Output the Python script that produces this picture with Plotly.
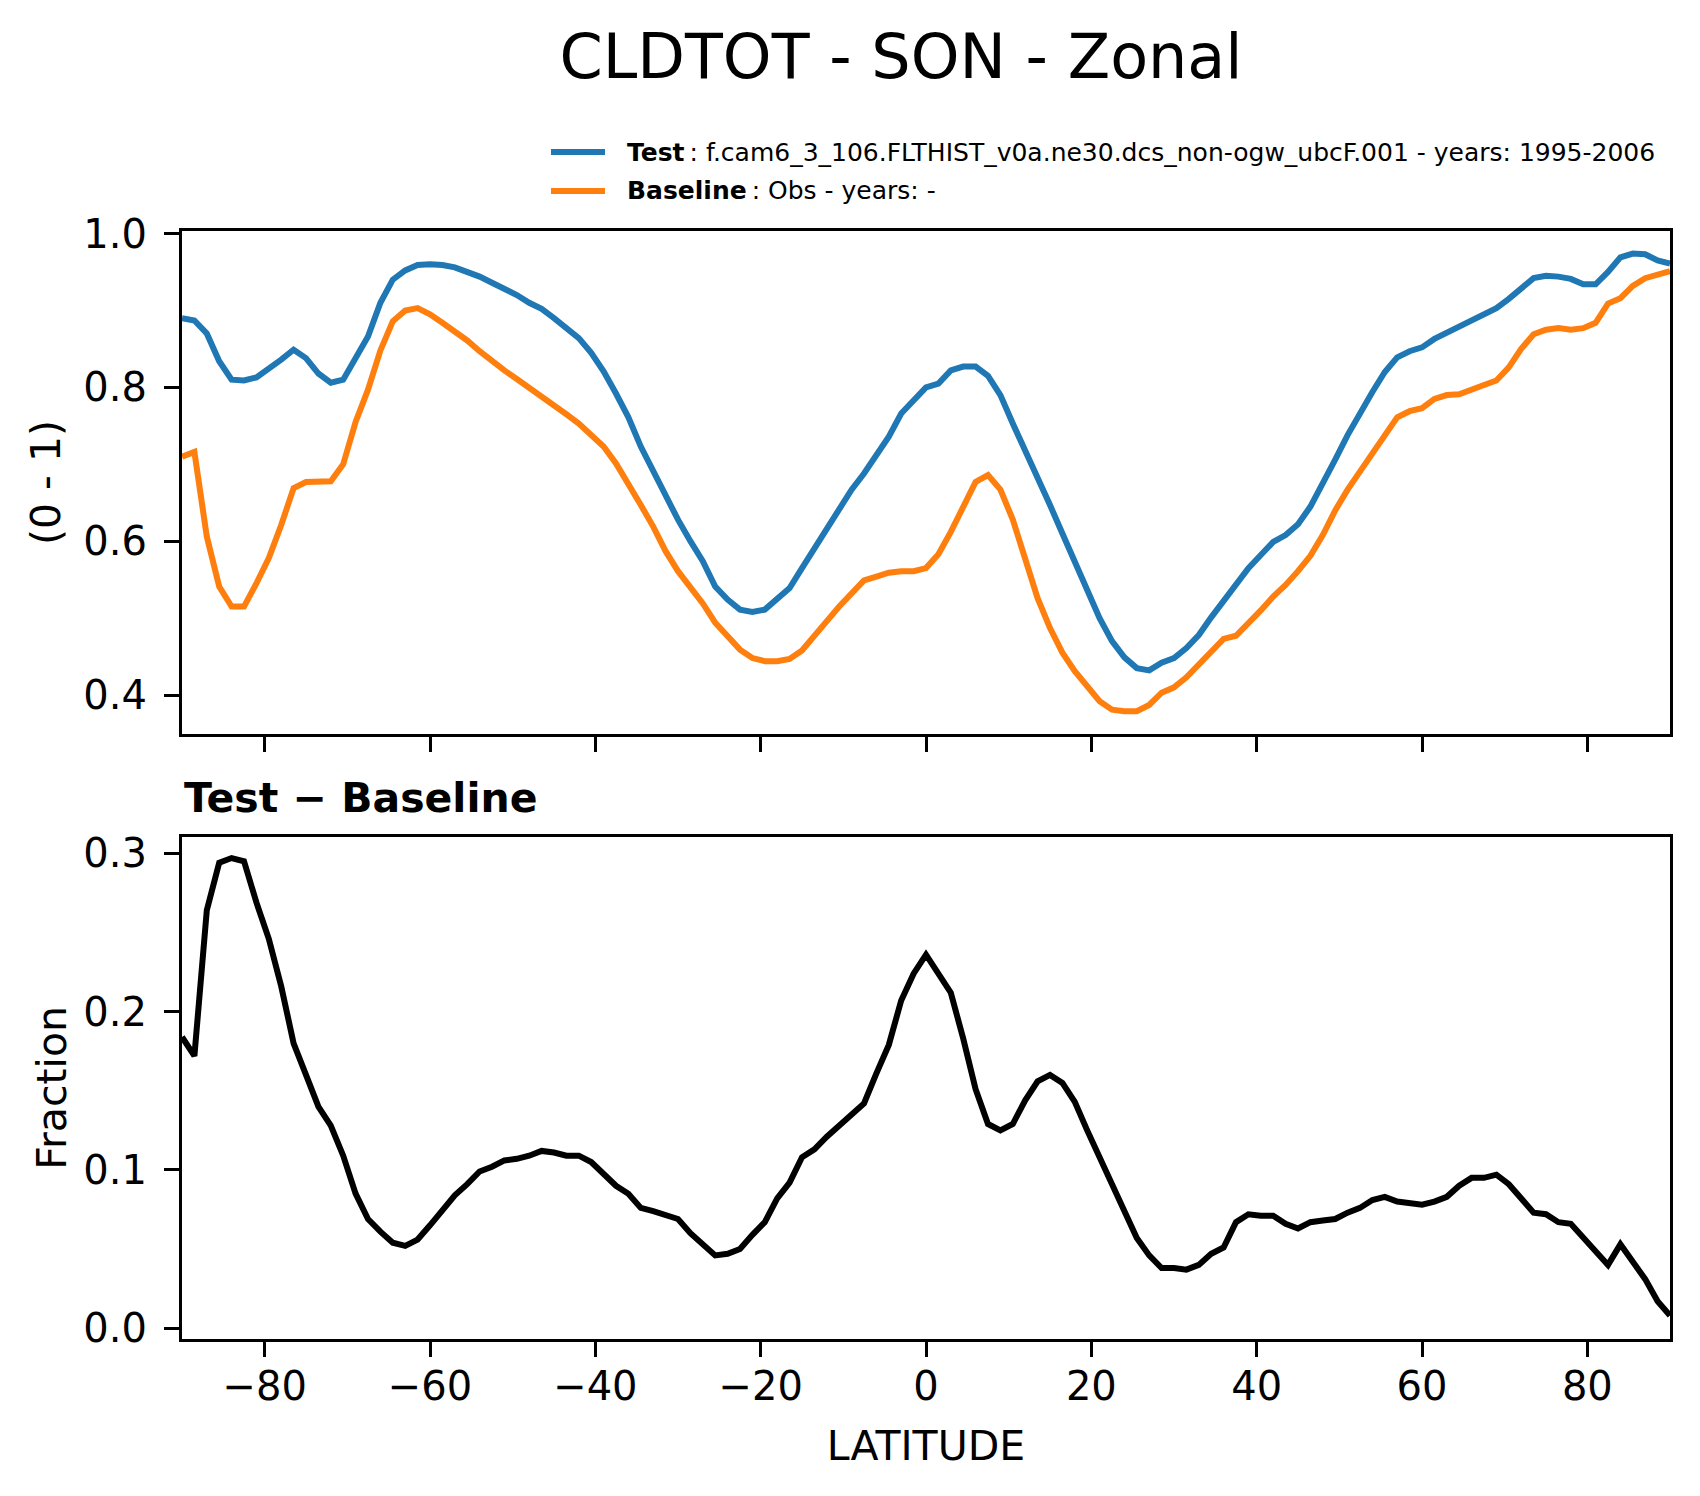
import numpy as np
import plotly.graph_objects as go
from plotly.subplots import make_subplots

# Latitude grid (1.5 degree spacing, -90 .. 90)
lat = np.linspace(-90, 90, 121)

test = [
    0.890, 0.887, 0.870, 0.834, 0.810, 0.809, 0.813, 0.824, 0.836, 0.849,
    0.838, 0.818, 0.806, 0.810, 0.838, 0.866, 0.910, 0.940, 0.952, 0.959,
    0.960, 0.959, 0.956, 0.951, 0.944, 0.936, 0.929, 0.920, 0.910, 0.902,
    0.890, 0.877, 0.864, 0.845, 0.821, 0.792, 0.761, 0.723, 0.691, 0.657,
    0.628, 0.600, 0.574, 0.541, 0.524, 0.511, 0.508, 0.511, 0.526, 0.539,
    0.565, 0.591, 0.617, 0.642, 0.667, 0.688, 0.712, 0.736, 0.766, 0.784,
    0.800, 0.805, 0.822, 0.827, 0.827, 0.815, 0.790, 0.753, 0.719, 0.684,
    0.647, 0.610, 0.574, 0.535, 0.500, 0.470, 0.449, 0.435, 0.432, 0.442,
    0.448, 0.461, 0.478, 0.501, 0.522, 0.542, 0.565, 0.582, 0.599, 0.608,
    0.622, 0.645, 0.674, 0.706, 0.738, 0.768, 0.794, 0.820, 0.839, 0.847,
    0.852, 0.863, 0.871, 0.879, 0.887, 0.896, 0.903, 0.915, 0.929, 0.942,
    0.945, 0.944, 0.941, 0.934, 0.934, 0.950, 0.969, 0.974, 0.973, 0.965,
    0.961,
]

baseline = [
    0.710, 0.716, 0.606, 0.541, 0.515, 0.515, 0.545, 0.578, 0.621, 0.669,
    0.677, 0.678, 0.678, 0.700, 0.755, 0.797, 0.848, 0.886, 0.900, 0.903,
    0.895, 0.884, 0.873, 0.861, 0.847, 0.834, 0.822, 0.811, 0.800, 0.788,
    0.777, 0.765, 0.753, 0.738, 0.723, 0.701, 0.675, 0.647, 0.619, 0.587,
    0.561, 0.540, 0.519, 0.494, 0.476, 0.459, 0.448, 0.444, 0.444, 0.447,
    0.458, 0.476, 0.496, 0.515, 0.533, 0.549, 0.554, 0.559, 0.561, 0.561,
    0.565, 0.583, 0.612, 0.645, 0.677, 0.686, 0.667, 0.628, 0.576, 0.526,
    0.487, 0.455, 0.431, 0.411, 0.392, 0.381, 0.379, 0.379, 0.387, 0.403,
    0.410, 0.423, 0.439, 0.455, 0.473, 0.477, 0.493, 0.510, 0.528, 0.543,
    0.561, 0.581, 0.608, 0.640, 0.667, 0.691, 0.714, 0.737, 0.761, 0.769,
    0.773, 0.785, 0.790, 0.791, 0.796, 0.803, 0.809, 0.826, 0.850, 0.869,
    0.875, 0.877, 0.875, 0.877, 0.884, 0.909, 0.916, 0.932, 0.942, 0.947,
    0.951,
]

diff = [
    0.184, 0.172, 0.264, 0.294, 0.297, 0.295, 0.269, 0.246, 0.216, 0.180,
    0.160, 0.140, 0.128, 0.109, 0.085, 0.069, 0.061, 0.054, 0.052, 0.056,
    0.065, 0.075, 0.084, 0.091, 0.099, 0.102, 0.106, 0.107, 0.109, 0.112,
    0.111, 0.109, 0.109, 0.105, 0.097, 0.090, 0.085, 0.076, 0.074, 0.071,
    0.069, 0.060, 0.053, 0.046, 0.047, 0.050, 0.059, 0.067, 0.082, 0.092,
    0.108, 0.113, 0.121, 0.128, 0.135, 0.142, 0.161, 0.179, 0.207, 0.224,
    0.236, 0.224, 0.212, 0.183, 0.151, 0.129, 0.125, 0.129, 0.144, 0.156,
    0.160, 0.155, 0.143, 0.125, 0.108, 0.091, 0.074, 0.057, 0.046, 0.038,
    0.038, 0.037, 0.040, 0.047, 0.051, 0.067, 0.072, 0.071, 0.071, 0.066,
    0.063, 0.067, 0.068, 0.069, 0.073, 0.076, 0.081, 0.083, 0.080, 0.079,
    0.078, 0.080, 0.083, 0.090, 0.095, 0.095, 0.097, 0.091, 0.082, 0.073,
    0.072, 0.067, 0.066, 0.057, 0.049, 0.040, 0.053, 0.042, 0.031, 0.017,
    0.008,
]

x_ticks = [-80, -60, -40, -20, 0, 20, 40, 60, 80]
x_ticktext = ["\u221280", "\u221260", "\u221240", "\u221220", "0", "20", "40", "60", "80"]
top_yticks = [0.4, 0.6, 0.8, 1.0]
top_yticktext = ["0.4", "0.6", "0.8", "1.0"]
bot_yticks = [0.0, 0.1, 0.2, 0.3]
bot_yticktext = ["0.0", "0.1", "0.2", "0.3"]

test_label = "<b>Test</b>\u2009: f.cam6_3_106.FLTHIST_v0a.ne30.dcs_non-ogw_ubcF.001 - years: 1995-2006"
base_label = "<b>Baseline</b>\u2009: Obs - years: -"

W, H = 1700, 1496
OFF = 8  # page offset of the plot div
AX_L, AX_R, AX_T, AX_B = 182, 1670, 231, 1339   # plot-area box in the picture
L = AX_L - OFF
T = AX_T - OFF
R = W - L - (AX_R - AX_L)
B = H - T - (AX_B - AX_T)

def px(p):
    return (p - AX_L) / (AX_R - AX_L)

def py(p):
    return (AX_B - p) / (AX_B - AX_T)

FONT = "DejaVu Sans"
BLUE, ORANGE = "#1f77b4", "#ff7f0e"
TICK_SIZE = 40
LABEL_SIZE = 41

fig = make_subplots(rows=2, cols=1, shared_xaxes=False, vertical_spacing=0.0)

fig.add_trace(go.Scatter(x=lat, y=test, mode="lines", name="Test", showlegend=False,
                         line=dict(color=BLUE, width=6)), row=1, col=1)
fig.add_trace(go.Scatter(x=lat, y=baseline, mode="lines", name="Baseline", showlegend=False,
                         line=dict(color=ORANGE, width=6)), row=1, col=1)
fig.add_trace(go.Scatter(x=lat, y=diff, mode="lines", name="Test - Baseline", showlegend=False,
                         line=dict(color="black", width=6)), row=2, col=1)

axis_common = dict(showline=True, linecolor="black", linewidth=3.3, mirror=True,
                   ticks="outside", ticklen=15, tickwidth=3.3, tickcolor="black",
                   showgrid=False, zeroline=False,
                   tickfont=dict(family=FONT, size=TICK_SIZE, color="black"))

fig.update_xaxes(range=[-90, 90], tickvals=x_ticks, ticktext=x_ticktext,
                 ticklabelstandoff=-5, **axis_common)
fig.update_xaxes(showticklabels=False, row=1, col=1)
fig.update_xaxes(title=dict(text="LATITUDE", font=dict(family=FONT, size=LABEL_SIZE, color="black"),
                            standoff=24), row=2, col=1)

fig.update_yaxes(ticklabelstandoff=9, **axis_common)
fig.update_yaxes(range=[0.3493, 1.0033], tickvals=top_yticks, ticktext=top_yticktext,
                 title=dict(text="(0 - 1)", font=dict(family=FONT, size=LABEL_SIZE, color="black"),
                            standoff=10), row=1, col=1)
fig.update_yaxes(range=[-0.0068, 0.3105], tickvals=bot_yticks, ticktext=bot_yticktext,
                 title=dict(text="Fraction", font=dict(family=FONT, size=LABEL_SIZE, color="black"),
                            standoff=4), row=2, col=1)

fig.update_layout(
    yaxis=dict(domain=[py(734), 1.0]),
    yaxis2=dict(domain=[0.0, py(836.7)]),
)

# subplot title of the difference panel
fig.add_annotation(text="<b>Test \u2212 Baseline</b>", xref="paper", yref="paper",
                   x=0.0, y=py(798), xanchor="left", yanchor="middle", showarrow=False,
                   font=dict(family=FONT, size=41, color="black"))

# legend (drawn as line samples + labels)
legend_rows = [(BLUE, test_label, 152), (ORANGE, base_label, 191)]
for color, label, yy in legend_rows:
    fig.add_shape(type="line", xref="paper", yref="paper",
                  x0=px(551), x1=px(605), y0=py(yy), y1=py(yy),
                  line=dict(color=color, width=6))
    fig.add_annotation(text=label, xref="paper", yref="paper",
                       x=px(625), y=py(yy), xanchor="left", yanchor="middle",
                       showarrow=False, font=dict(family=FONT, size=25, color="black"))

fig.update_layout(
    width=W, height=H,
    margin=dict(l=L, r=R, t=T, b=B),
    paper_bgcolor="white", plot_bgcolor="white",
    font=dict(family=FONT, color="black"),
    title=dict(text="CLDTOT - SON - Zonal", x=(901 - OFF) / W, xanchor="center",
               xref="container", yref="container", y=1 - (56 - OFF) / H, yanchor="middle",
               font=dict(family=FONT, size=62, color="black")),
    showlegend=False,
)

fig.write_html("out.html")
